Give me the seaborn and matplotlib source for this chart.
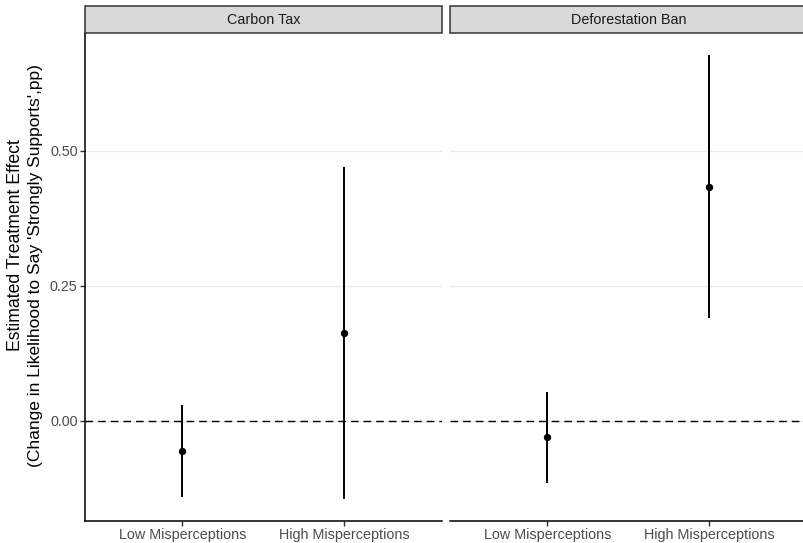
import matplotlib
matplotlib.use("Agg")
import matplotlib.pyplot as plt
from matplotlib.patches import Rectangle
import seaborn as sns
import pandas as pd

# ---- data ----
policies = ["Carbon Tax", "Deforestation Ban"]
groups = ["Low Misperceptions", "High Misperceptions"]
estimates = {"Carbon Tax": [-0.056, 0.162], "Deforestation Ban": [-0.030, 0.432]}
ci_low = {"Carbon Tax": [-0.141, -0.144], "Deforestation Ban": [-0.115, 0.190]}
ci_high = {"Carbon Tax": [0.029, 0.469], "Deforestation Ban": [0.054, 0.676]}
y_ticks = [0.0, 0.25, 0.5]
y_ticklabels = ["0.00", "0.25", "0.50"]

rows = []
for p in policies:
    for i, g in enumerate(groups):
        rows.append(dict(policy=p, group=g, est=estimates[p][i],
                         lo=ci_low[p][i], hi=ci_high[p][i]))
df = pd.DataFrame(rows)

sns.set_theme(style="white")
plt.rcParams["font.family"] = ["Liberation Sans", "DejaVu Sans"]

W, H = 804, 543
fig = plt.figure(figsize=(W / 100, H / 100), dpi=100)

panel_top, panel_bot = 33.3, 520.7
panel_w = 356.4
lefts = [85.3, 450.3]
strip_h = 27.3

lo_all = df["lo"].min()
hi_all = df["hi"].max()
span = hi_all - lo_all
ylim = (lo_all - 0.05 * span, hi_all + 0.05 * span)

for k, p in enumerate(policies):
    ax = fig.add_axes([lefts[k] / W, (H - panel_bot) / H, panel_w / W,
                       (panel_bot - panel_top) / H])
    sub = df[df["policy"] == p].reset_index(drop=True)
    ax.set_xlim(-0.6, 1.6)
    ax.set_ylim(*ylim)
    for yt in y_ticks:
        ax.axhline(yt, color="#EBEBEB", lw=0.9, zorder=0)
    ax.axhline(0, color="black", lw=1.0, ls=(0, (5.5, 3.6)), zorder=1)
    ax.vlines(range(len(sub)), sub["lo"], sub["hi"], color="black", lw=1.4, zorder=2)
    sns.scatterplot(data=sub, x="group", y="est", ax=ax, color="black", s=28,
                    edgecolor="black", linewidth=0, zorder=3)
    ax.set_xlim(-0.6, 1.6)
    ax.set_ylim(*ylim)
    ax.set_xlabel("")
    ax.set_ylabel("")
    ax.set_xticks(range(len(groups)))
    ax.set_xticklabels(groups, fontsize=10.4, color="#4D4D4D")
    for s in ["top", "right"]:
        ax.spines[s].set_visible(False)
    ax.spines["bottom"].set_color("black")
    ax.spines["bottom"].set_linewidth(1.1)
    ax.tick_params(axis="x", length=3.5, width=1.0, color="#333333", pad=2, bottom=True)
    if k == 0:
        ax.spines["left"].set_color("black")
        ax.spines["left"].set_linewidth(1.1)
        ax.set_yticks(y_ticks)
        ax.set_yticklabels(y_ticklabels, fontsize=10.4, color="#4D4D4D")
        ax.tick_params(axis="y", length=3.5, width=1.0, color="#333333", pad=2, left=True)
    else:
        ax.spines["left"].set_visible(False)
        ax.set_yticks([])
    # strip
    sh = strip_h / (panel_bot - panel_top)
    ax.add_patch(Rectangle((0, 1), 1, sh, transform=ax.transAxes, facecolor="#D9D9D9",
                           edgecolor="#333333", lw=1.1, clip_on=False, zorder=5))
    ax.text(0.5, 1 + sh / 2, p, transform=ax.transAxes, ha="center", va="center",
            fontsize=10.4, color="#1A1A1A", zorder=6)
    ax.set_facecolor("white")
    ax.patch.set_alpha(0)

fig.text(16 / W, 1 - 245 / H, "Estimated Treatment Effect", rotation=90,
         ha="center", va="center", fontsize=12.7, color="black")
fig.text(36 / W, 1 - 266 / H, "(Change in Likelihood to Say 'Strongly Supports',pp)",
         rotation=90, ha="center", va="center", fontsize=12.5, color="black")

fig.savefig("out.png", dpi=100, facecolor="white")
